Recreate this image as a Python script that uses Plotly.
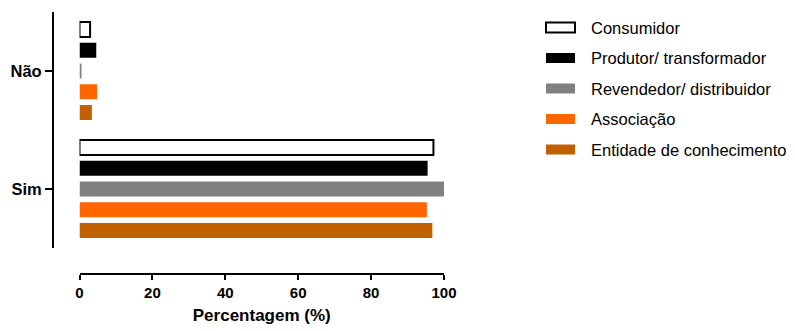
import plotly.graph_objects as go

# Respostas (eixo de categorias) e séries
categories = ["Não", "Sim"]
series_names = [
    "Consumidor",
    "Produtor/ transformador",
    "Revendedor/ distribuidor",
    "Associação",
    "Entidade de conhecimento",
]
consumidor = [2.9, 97.1]
produtor = [4.6, 95.5]
revendedor = [0.3, 100.0]
associacao = [4.8, 95.3]
entidade = [3.4, 96.8]
x_ticks = [0, 20, 40, 60, 80, 100]

values = [consumidor, produtor, revendedor, associacao, entidade]
fills = ["#FFFFFF", "#000000", "#808080", "#FF6600", "#C06000"]
outlines = [2, 0, 0, 0, 0]

W, H = 795, 331
L, R, T, B = 53, 351, 12, 57
PW, PH = W - L - R, H - T - B
FONT = "Arial, Liberation Sans, sans-serif"

fig = go.Figure()
for name, vals, fc, lw in zip(series_names, values, fills, outlines):
    fig.add_trace(go.Bar(
        y=categories, x=vals, name=name, orientation="h",
        marker=dict(color=fc, line=dict(color="#000000", width=lw)),
        showlegend=False,
    ))

def px_x(px):
    return (px - L) / PW

def px_y(py):
    return 1 - (py - T) / PH

# legenda desenhada à direita
shapes, annotations = [], []
for i, (name, fc, lw) in enumerate(zip(series_names, fills, outlines)):
    yc = 27.5 + i * 30.5
    shapes.append(dict(
        type="rect", xref="paper", yref="paper",
        x0=px_x(546), x1=px_x(575), y0=px_y(yc - 5), y1=px_y(yc + 5),
        fillcolor=fc, line=dict(color="#000000" if lw else fc, width=2 if lw else 0),
    ))
    annotations.append(dict(
        xref="paper", yref="paper", x=px_x(589), y=px_y(yc),
        xanchor="left", yanchor="middle", text=name, showarrow=False,
        font=dict(family=FONT, size=16.5, color="#000000"),
    ))

fig.update_layout(
    width=W, height=H,
    margin=dict(l=L, r=R, t=T, b=B, autoexpand=False),
    paper_bgcolor="white", plot_bgcolor="white",
    barmode="group", bargap=0.12, bargroupgap=0.27,
    shapes=shapes, annotations=annotations,
    xaxis=dict(
        domain=[px_x(79.5), 1], anchor="free", position=0,
        range=[0, 100], tickvals=x_ticks,
        showline=True, linecolor="#000000", linewidth=2,
        ticks="outside", ticklen=5, tickwidth=2, tickcolor="#000000",
        showgrid=False, zeroline=False,
        tickfont=dict(family=FONT, size=15, color="#000000", weight="bold"),
        title=dict(text="Percentagem (%)", standoff=8,
                   font=dict(family=FONT, size=17, color="#000000", weight="bold")),
    ),
    yaxis=dict(
        domain=[1 - (248 - T) / PH, 1], anchor="free", position=0,
        type="category", categoryorder="array", categoryarray=categories,
        range=[1.5, -0.5],
        showline=True, linecolor="#000000", linewidth=2,
        ticks="outside", ticklen=7, tickwidth=2, tickcolor="#000000",
        showgrid=False, zeroline=False,
        tickfont=dict(family=FONT, size=16.5, color="#000000", weight="bold"),
    ),
)

fig.write_html("out.html")
